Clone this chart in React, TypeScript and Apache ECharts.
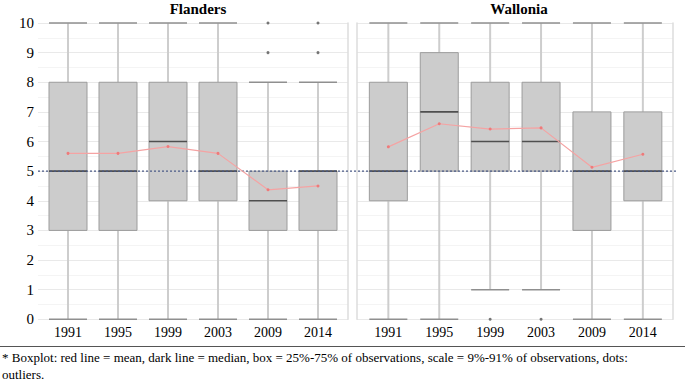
import React, { useEffect, useRef } from "react";
import * as echarts from "echarts";

const years = ["1991", "1995", "1999", "2003", "2009", "2014"];
// [min (9%), Q1, median, Q3, max (91%)]
const flandersBox = [
  [0, 3, 5, 8, 10],
  [0, 3, 5, 8, 10],
  [0, 4, 6, 8, 10],
  [0, 4, 5, 8, 10],
  [0, 3, 4, 5, 8],
  [0, 3, 5, 5, 8],
];
const flandersMean = [5.6, 5.6, 5.83, 5.6, 4.37, 4.5];
const flandersOutliers = [
  [4, 9],
  [4, 10],
  [5, 9],
  [5, 10],
];
const walloniaBox = [
  [0, 4, 5, 8, 10],
  [0, 5, 7, 9, 10],
  [1, 5, 6, 8, 10],
  [1, 5, 6, 8, 10],
  [0, 3, 5, 7, 10],
  [0, 4, 5, 7, 10],
];
const walloniaMean = [5.82, 6.6, 6.42, 6.46, 5.13, 5.57];
const walloniaOutliers = [
  [2, 0],
  [3, 0],
];
const referenceLine = 5;
const panelTitles = ["Flanders", "Wallonia"];
const footnoteLines = [
  "* Boxplot: red line = mean, dark line = median, box = 25%-75% of observations, scale = 9%-91% of observations, dots:",
  "outliers.",
];

const FONT = "Liberation Serif";
const CSS_FONT = "'Liberation Serif', 'Times New Roman', serif";

function renderBox(params: any, api: any) {
  const i = api.value(0);
  const p = (v: number) => api.coord([i, v]);
  const x = p(api.value(1))[0];
  const yMin = p(api.value(1))[1];
  const yQ1 = p(api.value(2))[1];
  const yMed = p(api.value(3))[1];
  const yQ3 = p(api.value(4))[1];
  const yMax = p(api.value(5))[1];
  const half = 19;
  const whisker = { stroke: "#cdcdcd", lineWidth: 2 };
  const cap = { stroke: "#8f8f8f", lineWidth: 1.5 };
  return {
    type: "group",
    children: [
      { type: "line", shape: { x1: x, y1: yQ3, x2: x, y2: yMax }, style: whisker },
      { type: "line", shape: { x1: x, y1: yQ1, x2: x, y2: yMin }, style: whisker },
      { type: "line", shape: { x1: x - half, y1: yMax, x2: x + half, y2: yMax }, style: cap },
      { type: "line", shape: { x1: x - half, y1: yMin, x2: x + half, y2: yMin }, style: cap },
      {
        type: "rect",
        shape: { x: x - half, y: yQ3, width: half * 2, height: yQ1 - yQ3 },
        style: { fill: "#cccccc", stroke: "#9c9c9c", lineWidth: 1 },
      },
      {
        type: "line",
        shape: { x1: x - half, y1: yMed, x2: x + half, y2: yMed },
        style: { stroke: "#4f4f4f", lineWidth: 1.6 },
      },
    ],
  };
}

export default function App() {
  const ref = useRef<HTMLDivElement>(null);
  useEffect(() => {
    const chart = echarts.init(ref.current!, null, { renderer: "svg" });
    const top = 23;
    const bottom = 65.7;
    const hiddenY = (gridIndex: number) => ({
      type: "value",
      gridIndex,
      min: 0,
      max: 10,
      interval: 1,
      show: false,
      splitLine: { show: false },
    });
    const catX = (gridIndex: number) => ({
      type: "category",
      gridIndex,
      data: years,
      axisLine: { show: false },
      axisTick: { show: false },
      splitLine: { show: false },
      axisLabel: { fontFamily: FONT, fontSize: 14, color: "#000", margin: 6 },
    });
    const bgX = (gridIndex: number) => ({
      type: "value",
      gridIndex,
      min: 0,
      max: 1,
      show: false,
      splitLine: { show: false },
    });
    const bgY = (gridIndex: number, labels: boolean) => ({
      type: "value",
      gridIndex,
      min: 0,
      max: 10,
      interval: 0.5,
      axisLine: { show: false },
      axisTick: { show: false },
      axisLabel: labels
        ? {
            show: true,
            fontFamily: FONT,
            fontSize: 15,
            color: "#000",
            margin: 4,
            formatter: (v: number) => (Number.isInteger(v) ? String(v) : ""),
          }
        : { show: false },
      splitLine: {
        show: true,
        lineStyle: { color: ["#e9e9e9", "#f4f4f4"], width: 1 },
      },
    });
    const edgeY = (gridIndex: number, position: string) => ({
      type: "value",
      gridIndex,
      position,
      min: 0,
      max: 10,
      axisLine: { show: true, lineStyle: { color: "#dcdcdc", width: 1.5 } },
      axisTick: { show: false },
      axisLabel: { show: false },
      splitLine: { show: false },
    });

    const boxData = (arr: number[][]) => arr.map((b, i) => [i, ...b]);

    chart.setOption({
      animation: false,
      grid: [
        { left: 43, width: 300, top, bottom },
        { left: 362.9, width: 305.4, top, bottom },
        { left: 38, width: 310, top, bottom },
        { left: 357, width: 316, top, bottom },
        { left: 38, width: 639, top, bottom },
      ],
      xAxis: [catX(0), catX(1), bgX(2), bgX(3), bgX(4)],
      yAxis: [
        hiddenY(0),
        hiddenY(1),
        bgY(2, true),
        edgeY(2, "right"),
        bgY(3, false),
        edgeY(3, "left"),
        edgeY(3, "right"),
        hiddenY(4),
      ],
      series: [
        {
          type: "custom",
          name: "Flanders box",
          xAxisIndex: 0,
          yAxisIndex: 0,
          renderItem: renderBox,
          encode: { x: 0, y: [1, 2, 3, 4, 5] },
          data: boxData(flandersBox),
          z: 3,
        },
        {
          type: "custom",
          name: "Wallonia box",
          xAxisIndex: 1,
          yAxisIndex: 1,
          renderItem: renderBox,
          encode: { x: 0, y: [1, 2, 3, 4, 5] },
          data: boxData(walloniaBox),
          z: 3,
        },
        {
          type: "line",
          xAxisIndex: 4,
          yAxisIndex: 7,
          data: [
            [0, referenceLine],
            [1, referenceLine],
          ],
          symbol: "none",
          lineStyle: { type: [2, 2], color: "#4a5a86", width: 1.2 },
          z: 4,
          silent: true,
        },
        {
          type: "line",
          xAxisIndex: 0,
          yAxisIndex: 0,
          data: flandersMean,
          symbol: "circle",
          symbolSize: 3,
          itemStyle: { color: "#ee7a7a" },
          lineStyle: { color: "#f5a3a3", width: 1.2 },
          z: 5,
        },
        {
          type: "line",
          xAxisIndex: 1,
          yAxisIndex: 1,
          data: walloniaMean,
          symbol: "circle",
          symbolSize: 3,
          itemStyle: { color: "#ee7a7a" },
          lineStyle: { color: "#f5a3a3", width: 1.2 },
          z: 5,
        },
        {
          type: "scatter",
          xAxisIndex: 0,
          yAxisIndex: 0,
          data: flandersOutliers,
          symbolSize: 3,
          itemStyle: { color: "#555" },
          z: 5,
        },
        {
          type: "scatter",
          xAxisIndex: 1,
          yAxisIndex: 1,
          data: walloniaOutliers,
          symbolSize: 3,
          itemStyle: { color: "#555" },
          z: 5,
        },
      ],
      graphic: [
        {
          type: "line",
          shape: { x1: 0, y1: 346.5, x2: 685, y2: 346.5 },
          style: { stroke: "#555", lineWidth: 1 },
        },
      ],
    });
    return () => chart.dispose();
  }, []);
  const titleStyle: React.CSSProperties = {
    position: "absolute",
    top: 0,
    width: 200,
    marginLeft: -100,
    textAlign: "center",
    fontFamily: CSS_FONT,
    fontWeight: "bold",
    fontSize: 15,
    lineHeight: "18px",
    color: "#000",
    zIndex: 2,
  };
  return (
    <div style={{ position: "absolute", left: 0, top: 0, width: 685, height: 385, background: "#fff" }}>
      <div ref={ref} style={{ position: "absolute", left: 0, top: 0, width: 685, height: 385 }} />
      <div style={{ ...titleStyle, left: 198 }}>{panelTitles[0]}</div>
      <div style={{ ...titleStyle, left: 519 }}>{panelTitles[1]}</div>
      <div
        style={{
          position: "absolute",
          left: 2,
          top: 348.5,
          width: 683,
          fontFamily: CSS_FONT,
          fontSize: 13,
          lineHeight: "17px",
          color: "#000",
          whiteSpace: "pre",
          zIndex: 2,
        }}
      >
        {footnoteLines.join("\n")}
      </div>
    </div>
  );
}
